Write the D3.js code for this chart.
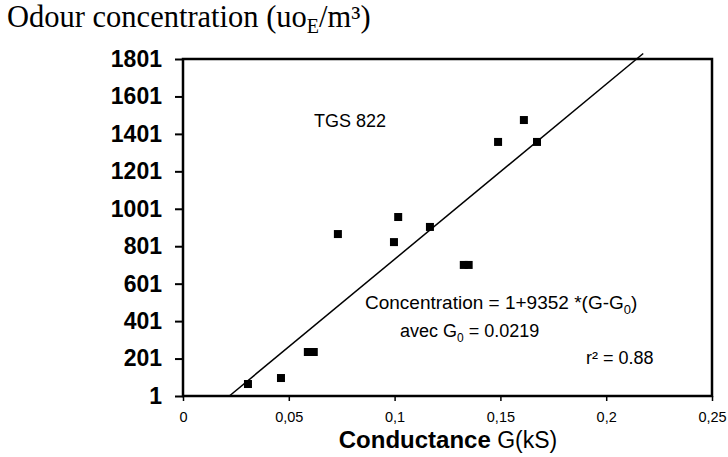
<!DOCTYPE html>
<html><head><meta charset="utf-8">
<script src="https://cdn.jsdelivr.net/npm/d3@7"></script>
<style>body{margin:0;background:#fff}</style>
</head><body>
<svg id="c" width="728" height="457"></svg>
<script>
const conductance = [0.0307, 0.0463, 0.0590, 0.0618, 0.0732, 0.0997, 0.1017, 0.1167, 0.1327, 0.1350, 0.1489, 0.1611, 0.1673];
const concentration = [65, 97, 236, 236, 866, 823, 957, 904, 701, 701, 1358, 1475, 1358];
const yTicks = [1, 201, 401, 601, 801, 1001, 1201, 1401, 1601, 1801];
const xTicks = [0, 0.05, 0.1, 0.15, 0.2, 0.25];
const fitIntercept = 1, fitSlope = 9352, fitG0 = 0.0219;
const fitEnds = [0.0219, 0.2175];

const svg = d3.select("#c");
const L = 183, R = 712, T = 59, B = 396;
const x = d3.scaleLinear().domain([0, 0.25]).range([L, R]);
const y = d3.scaleLinear().domain([1, 1801]).range([B, T]);
const sans = "'Liberation Sans', Arial, sans-serif";

svg.append("text").attr("x", 7).attr("y", 27)
  .attr("font-family", "'Liberation Serif', 'Times New Roman', serif").attr("font-size", 30.5)
  .html('Odour concentration (uo<tspan font-size="20" dy="6">E</tspan><tspan dy="-6">/m³)</tspan>');

// axes
const ya = svg.append("g").attr("transform", `translate(${L},0)`)
  .call(d3.axisLeft(y).tickValues(yTicks).tickSize(8).tickFormat(d3.format("d")).tickPadding(13));
ya.select(".domain").remove();
ya.selectAll("line").attr("stroke", "#000").attr("stroke-width", 2);
ya.selectAll("text").attr("font-family", sans).attr("font-size", 23).attr("font-weight", "bold").attr("fill", "#000");

const xa = svg.append("g").attr("transform", `translate(0,${B})`)
  .call(d3.axisBottom(x).tickValues(xTicks).tickSize(5).tickPadding(11)
    .tickFormat(d => d === 0 ? "0" : String(d).replace(".", ",")));
xa.select(".domain").remove();
xa.selectAll("line").attr("stroke", "#000").attr("stroke-width", 1.5);
xa.selectAll("text").attr("font-family", sans).attr("font-size", 14.5).attr("fill", "#000");

// plot frame
svg.append("rect").attr("x", L).attr("y", T).attr("width", R - L).attr("height", B - T)
  .attr("fill", "none").attr("stroke", "#000").attr("stroke-width", 2.5);

// fit line
svg.append("line")
  .attr("x1", x(fitEnds[0])).attr("y1", y(fitIntercept + fitSlope * (fitEnds[0] - fitG0)))
  .attr("x2", x(fitEnds[1])).attr("y2", y(fitIntercept + fitSlope * (fitEnds[1] - fitG0)))
  .attr("stroke", "#000").attr("stroke-width", 1.5);

// points
svg.selectAll("rect.pt").data(conductance).enter().append("rect").attr("class", "pt")
  .attr("x", (d) => x(d) - 4).attr("y", (d, i) => y(concentration[i]) - 4)
  .attr("width", 8).attr("height", 8).attr("fill", "#000");

// annotations
svg.append("text").attr("x", 314).attr("y", 127).attr("font-family", sans).attr("font-size", 18).text("TGS 822");
svg.append("text").attr("x", 365).attr("y", 309).attr("font-family", sans).attr("font-size", 19)
  .html('Concentration = 1+9352 *(G-G<tspan font-size="13" dy="5">0</tspan><tspan dy="-5">)</tspan>');
svg.append("text").attr("x", 400).attr("y", 337).attr("font-family", sans).attr("font-size", 18)
  .html('avec G<tspan font-size="12" dy="5">0</tspan><tspan dy="-5"> = 0.0219</tspan>');
svg.append("text").attr("x", 586).attr("y", 364).attr("font-family", sans).attr("font-size", 18).text("r² = 0.88");

// x title
svg.append("text").attr("x", 448).attr("y", 448).attr("text-anchor", "middle").attr("font-family", sans)
  .html('<tspan font-weight="bold" font-size="24">Conductance</tspan><tspan font-size="23"> G(kS)</tspan>');
</script>
</body></html>
